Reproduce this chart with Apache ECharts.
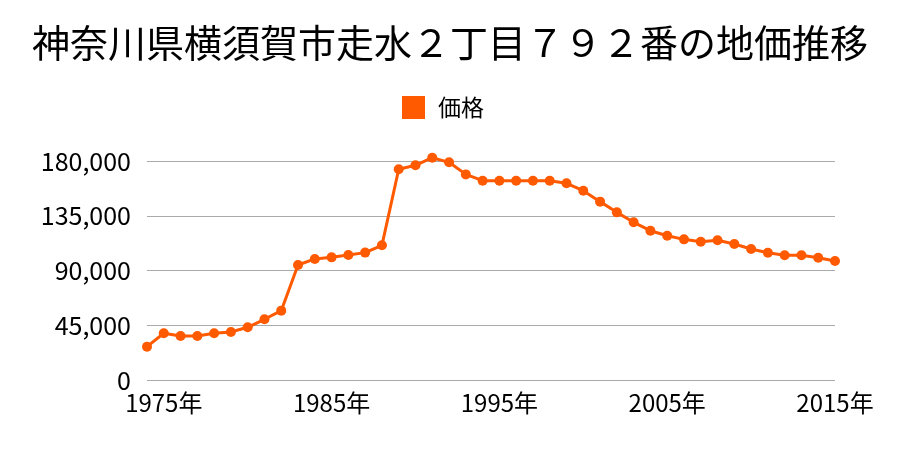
<!DOCTYPE html>
<html><head><meta charset="utf-8">
<script src="https://cdn.jsdelivr.net/npm/echarts@6/dist/echarts.min.js"></script>
<style>html,body{margin:0;padding:0;background:#fff}#c{width:900px;height:450px}</style>
</head><body><div id="c"></div>
<script>
const titleText = '神奈川県横須賀市走水２丁目７９２番の地価推移';
const seriesName = '価格';
const years = [1974,1975,1976,1977,1978,1979,1980,1981,1982,1983,1984,1985,1986,1987,1988,1989,1990,1991,1992,1993,1994,1995,1996,1997,1998,1999,2000,2001,2002,2003,2004,2005,2006,2007,2008,2009,2010,2011,2012,2013,2014,2015];
const prices = [27400,38400,36200,36200,38400,39500,43300,49900,57000,94500,99500,100800,102700,104700,110700,173200,176500,182700,178900,169000,163800,163800,163800,163800,163800,161700,155600,146600,137800,129600,122700,118600,115600,113700,114800,111800,107700,104600,102500,102500,100500,97800];
const yTicks = [0,45000,90000,135000,180000];

const font = '"Noto Sans CJK JP", "Noto Sans", sans-serif';
const chart = echarts.init(document.getElementById('c'));
chart.setOption({
  animation: false,
  title: {text: titleText, left: 'center', top: 19, textStyle: {fontSize: 38, fontWeight: 'normal', color: '#000', fontFamily: font}},
  legend: {data: [seriesName], top: 91, left: 397, itemWidth: 23, itemHeight: 23, icon: 'rect',
    textStyle: {fontSize: 23, color: '#000', fontFamily: font, padding: [0, 0, 0, 8]}},
  grid: {left: 147, right: 65, top: 161, bottom: 70},
  xAxis: {type: 'category', data: years.map(y => y + '年'), boundaryGap: false,
    axisLine: {show: false}, axisTick: {show: false},
    axisLabel: {interval: (i) => (years[i] % 10 === 5), fontSize: 24, color: '#000', fontFamily: font, margin: 11},
    splitLine: {show: false}},
  yAxis: {type: 'value', min: yTicks[0], max: yTicks[yTicks.length-1], interval: 45000,
    axisLine: {show: false}, axisTick: {show: false},
    axisLabel: {fontSize: 25, color: '#000', fontFamily: font, margin: 16, formatter: v => v.toLocaleString('en-US')},
    splitLine: {lineStyle: {color: '#aaaaaa', width: 1}}},
  series: [{name: seriesName, type: 'line', data: prices, color: '#ff5a00', clip: false,
    lineStyle: {width: 3}, symbol: 'circle', symbolSize: 10, itemStyle: {color: '#ff5a00'}}]
});
</script></body></html>
